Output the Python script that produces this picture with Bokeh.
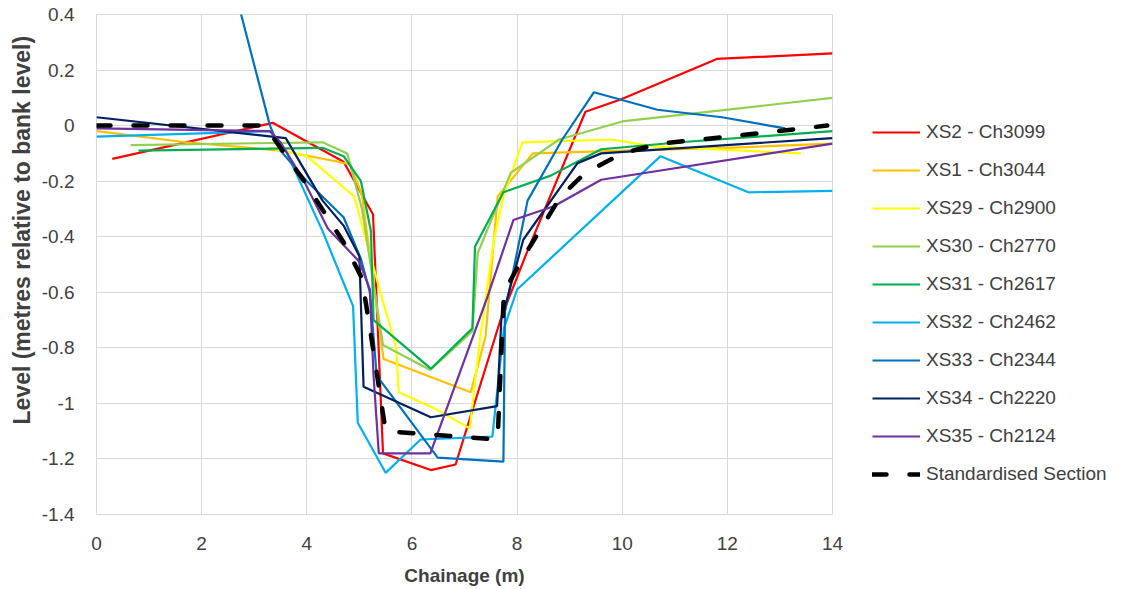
from bokeh.plotting import figure
from bokeh.layouts import row
from bokeh.models import Legend, LegendItem, FixedTicker, Title, Range1d
from bokeh.embed import file_html
from bokeh.resources import INLINE

# ---------------- data ----------------
series_names = ["XS2 - Ch3099", "XS1 - Ch3044", "XS29 - Ch2900", "XS30 - Ch2770",
                "XS31 - Ch2617", "XS32 - Ch2462", "XS33 - Ch2344", "XS34 - Ch2220",
                "XS35 - Ch2124", "Standardised Section"]
series_colors = ["#FF0000", "#FFC000", "#FFFF00", "#92D050", "#00B050",
                 "#00B0F0", "#0070C0", "#002060", "#7030A0", "#000000"]

xs2_x = [0.3, 3.35, 4.7, 5.26, 5.45, 6.36, 6.83, 7.7, 8.2, 9.3, 9.97, 11.8, 14.0]
xs2_y = [-0.12, 0.01, -0.13, -0.32, -1.18, -1.24, -1.22, -0.69, -0.45, 0.05, 0.094, 0.24, 0.26]

xs1_x = [0.0, 1.7, 3.5, 4.6, 4.83, 5.05, 5.46, 7.12, 7.4, 7.63, 8.3, 10.0, 12.0, 14.0]
xs1_y = [-0.02, -0.06, -0.09, -0.13, -0.14, -0.25, -0.84, -0.96, -0.76, -0.255, -0.1, -0.09, -0.08, -0.065]

xs29_x = [3.3, 4.0, 4.9, 5.4, 5.7, 5.75, 6.45, 7.1, 7.3, 7.56, 7.74, 8.1, 9.8, 10.6, 13.4]
xs29_y = [-0.08, -0.11, -0.255, -0.6, -0.8, -0.96, -1.02, -1.09, -0.76, -0.41, -0.255, -0.06, -0.05, -0.075, -0.10]

xs30_x = [0.65, 4.3, 4.77, 5.05, 5.45, 6.35, 7.15, 7.25, 7.88, 8.8, 10.0, 14.0]
xs30_y = [-0.07, -0.06, -0.10, -0.30, -0.79, -0.88, -0.74, -0.46, -0.17, -0.05, 0.015, 0.10]

xs31_x = [0.8, 4.3, 4.7, 5.03, 5.22, 5.27, 6.36, 7.15, 7.2, 7.74, 8.64, 9.6, 11.1, 14.0]
xs31_y = [-0.09, -0.08, -0.11, -0.20, -0.38, -0.70, -0.875, -0.73, -0.435, -0.24, -0.18, -0.085, -0.06, -0.02]

xs32_x = [0.0, 3.3, 3.6, 4.3, 4.88, 4.97, 5.5, 6.165, 7.53, 7.75, 8.0, 10.73, 12.4, 14.0]
xs32_y = [-0.04, -0.02, -0.09, -0.38, -0.65, -1.07, -1.25, -1.13, -1.12, -0.73, -0.59, -0.11, -0.24, -0.235]

xs33_x = [2.6, 3.3, 3.5, 4.0, 4.7, 5.03, 5.2, 5.33, 6.49, 7.74, 7.77, 8.2, 8.86, 9.46, 10.67, 11.9, 13.1]
xs33_y = [0.51, 0.0, -0.09, -0.2, -0.33, -0.48, -0.6, -0.9, -1.195, -1.21, -0.67, -0.27, -0.05, 0.12, 0.057, 0.03, -0.01]

xs34_x = [0.0, 3.6, 4.3, 4.7, 5.0, 5.08, 6.36, 7.62, 7.7, 8.12, 9.15, 9.6, 14.0]
xs34_y = [0.03, -0.045, -0.27, -0.36, -0.47, -0.94, -1.05, -1.01, -0.7, -0.41, -0.135, -0.1, -0.045]

xs35_x = [0.0, 3.3, 3.5, 3.95, 4.4, 5.0, 5.2, 5.27, 5.37, 6.35, 7.43, 7.93, 8.7, 9.6, 14.0]
xs35_y = [-0.01, -0.02, -0.06, -0.2, -0.37, -0.49, -0.59, -0.9, -1.18, -1.18, -0.62, -0.34, -0.29, -0.195, -0.065]

std_x = [0.0, 3.2, 3.95, 4.7, 5.05, 5.25, 5.5, 7.63, 7.75, 8.1, 8.83, 9.3, 10.0, 10.7, 12.0, 13.9]
std_y = [0.0, 0.0, -0.2, -0.42, -0.55, -0.79, -1.1, -1.13, -0.6, -0.48, -0.255, -0.17, -0.1, -0.065, -0.04, 0.0]

x_ticks = [0, 2, 4, 6, 8, 10, 12, 14]
x_tick_labels = ["0", "2", "4", "6", "8", "10", "12", "14"]
y_ticks = [-1.4, -1.2, -1.0, -0.8, -0.6, -0.4, -0.2, 0.0, 0.2, 0.4]
y_tick_labels = ["-1.4", "-1.2", "-1", "-0.8", "-0.6", "-0.4", "-0.2", "0", "0.2", "0.4"]

series_x = [xs2_x, xs1_x, xs29_x, xs30_x, xs31_x, xs32_x, xs33_x, xs34_x, xs35_x, std_x]
series_y = [xs2_y, xs1_y, xs29_y, xs30_y, xs31_y, xs32_y, xs33_y, xs34_y, xs35_y, std_y]

# ---------------- main figure ----------------
FONT = "Liberation Sans"
TXT = "#404040"
GRID = "#D9D9D9"
MAIN_W = 846
TOTAL_W = 1120
H = 588

p = figure(width=MAIN_W, height=H, output_backend="svg", toolbar_location=None,
           x_range=Range1d(0, 14), y_range=Range1d(-1.4, 0.4),
           min_border_left=96, min_border_right=MAIN_W - 832, min_border_top=14, min_border_bottom=73)
p.background_fill_color = "white"
p.border_fill_color = "white"
p.outline_line_color = GRID

p.xaxis.ticker = FixedTicker(ticks=x_ticks)
p.yaxis.ticker = FixedTicker(ticks=y_ticks)
p.xaxis.major_label_overrides = {t: l for t, l in zip(x_ticks, x_tick_labels)}
p.yaxis.major_label_overrides = {t: l for t, l in zip(y_ticks, y_tick_labels)}
p.xgrid.ticker = FixedTicker(ticks=x_ticks)
p.ygrid.ticker = FixedTicker(ticks=y_ticks)
p.grid.grid_line_color = GRID
p.grid.grid_line_width = 1

for ax in (p.xaxis, p.yaxis):
    ax.axis_line_color = None
    ax.major_tick_line_color = None
    ax.minor_tick_line_color = None
    ax.major_label_text_font = FONT
    ax.major_label_text_color = TXT
    ax.major_label_text_font_size = "19px"

p.yaxis.major_label_standoff = 16
p.xaxis.major_label_standoff = 16
p.xaxis.axis_label = "Chainage (m)"
p.xaxis.axis_label_text_font = FONT
p.xaxis.axis_label_text_font_style = "bold"
p.xaxis.axis_label_text_font_size = "19px"
p.xaxis.axis_label_text_color = TXT
p.xaxis.axis_label_standoff = 12

ytitle = Title(text="Level (metres relative to bank level)", align="left", offset=90,
               text_font=FONT, text_font_style="bold", text_font_size="23px",
               text_color=TXT, standoff=5, vertical_align="middle")
p.add_layout(ytitle, "left")

for xs, ys, name, col in zip(series_x, series_y, series_names, series_colors):
    if name == "Standardised Section":
        p.line(xs, ys, line_color=col, line_width=4.5, line_dash="14 23", line_cap="round")
    else:
        p.line(xs, ys, line_color=col, line_width=2.2)

# ---------------- legend panel ----------------
# the same series are drawn here, but the view range is far from the data,
# so only the legend entries are visible in this panel
lg = figure(width=TOTAL_W - MAIN_W, height=H, output_backend="svg", toolbar_location=None,
            x_axis_type=None, y_axis_type=None, x_range=Range1d(100, 101), y_range=Range1d(100, 101),
            min_border_left=0, min_border_right=0, min_border_top=0, min_border_bottom=0)
lg.outline_line_color = None
lg.grid.visible = False
lg.background_fill_color = "white"
lg.border_fill_color = "white"

items = []
for xs, ys, name, col in zip(series_x, series_y, series_names, series_colors):
    if name == "Standardised Section":
        r = lg.line(xs, ys, line_color=col, line_width=4.5, line_dash="14 23", line_cap="round")
    else:
        r = lg.line(xs, ys, line_color=col, line_width=2.2)
    items.append(LegendItem(label=name, renderers=[r]))

legend = Legend(items=items, location=(26, 29), orientation="vertical",
                glyph_width=48, glyph_height=22, label_height=22, spacing=16,
                label_standoff=6, padding=10, margin=0,
                label_text_font=FONT, label_text_font_size="19px", label_text_color=TXT,
                background_fill_alpha=0, border_line_color=None)
lg.add_layout(legend)

layout = row(p, lg, spacing=0)
open("out.html", "w").write(file_html(layout, INLINE))
